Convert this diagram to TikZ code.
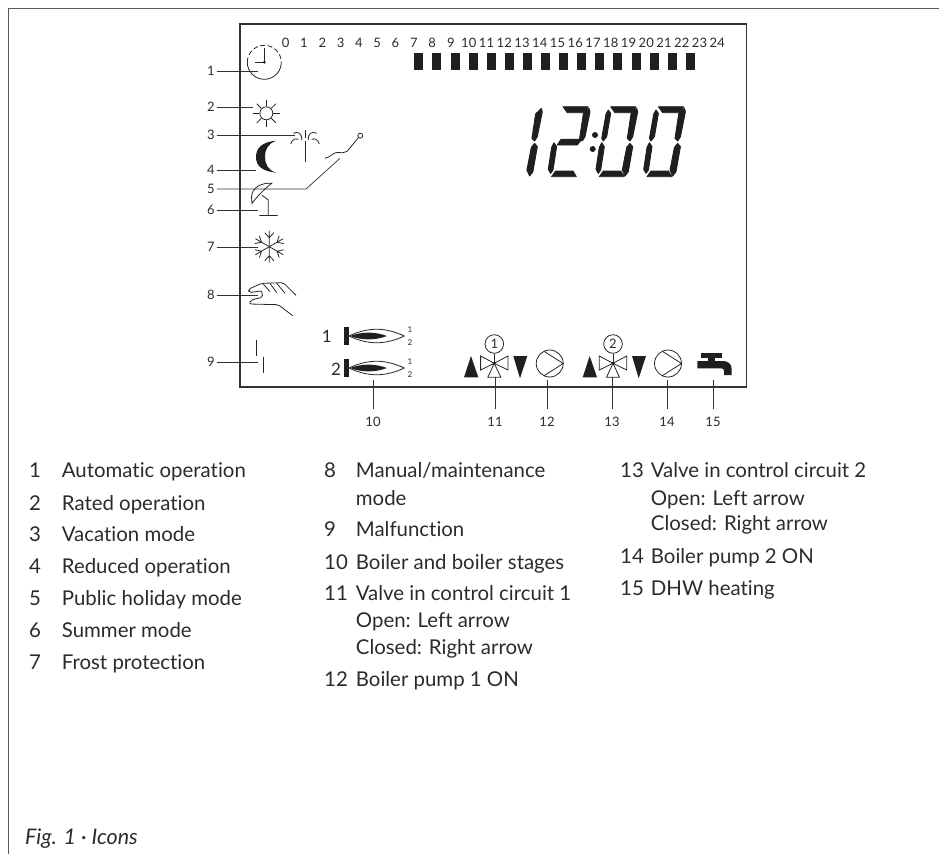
\documentclass[tikz,border=0pt]{standalone}
\usepackage{fontspec}
\usepackage{xcolor}
\setmainfont[Ligatures=NoCommon]{Lato}
\usetikzlibrary{arrows.meta, positioning}

\definecolor{inkgray}{HTML}{2B2B2B}

% Display segments, relative to the upper left of a digit
\newcommand{\segT}{(-0.3,0) -- (25,0) -- (20.7,6) -- (4,6) -- cycle}
\newcommand{\segUR}{(25.7,1.7) -- (26.7,5) -- (21.7,30) -- (19,34.3) -- (16.3,31.7) -- (20,7.3) -- cycle}
\newcommand{\segLR}{(19,36.7) -- (21.7,40) -- (17.3,65) -- (14,69.3) -- (11.3,63.3) -- (15.7,40.7) -- cycle}
\newcommand{\segB}{(-11.7,70) -- (13,70) -- (9.7,64.3) -- (-7.7,64.3) -- cycle}
\newcommand{\segLL}{(-9.3,36) -- (-6.7,40) -- (-10.3,63.3) -- (-12.7,66.7) -- (-15,62.7) -- (-11.7,40.7) -- cycle}
\newcommand{\segUL}{(-2.7,3.3) -- (-0.3,6.7) -- (-4.3,30) -- (-7.7,34.3) -- (-9.3,31.7) -- (-5,7.3) -- cycle}
\newcommand{\segM}{(-6,38.3) -- (14,38.3) -- (18.3,32.7) -- (-2.3,32.7) -- cycle}

\begin{document}
\begin{tikzpicture}[
  x=1pt, y=-1pt,
  every node/.style={text=inkgray},
  frameline/.style={draw=black!65, line width=1pt},
  screenline/.style={draw=black!80, line width=1.4pt},
  leader/.style={draw=black!80, line width=0.7pt},
  icon/.style={draw=black!85, line width=0.8pt},
  solidicon/.style={fill=black!88},
  digitseg/.style={fill=black!88, draw=black!88, line width=0.9pt, line join=round},
  smalllabel/.style={font=\fontsize{13}{13}\selectfont, inner sep=0pt, outer sep=2pt},
  tinylabel/.style={font=\fontsize{8}{8}\selectfont, inner sep=0pt},
  hourlabel/.style={font=\fontsize{13}{13}\selectfont, inner sep=0pt, anchor=center},
  legend/.style={font=\fontsize{20.4}{20.4}\selectfont, inner sep=0pt, anchor=base west},
]
\useasboundingbox (0,0) rectangle (939,854);

% Outer frame
\coordinate (framebl) at (8.5,854);
\coordinate (frametl) at (8.5,8);
\coordinate (frametr) at (939,8);
\draw[frameline] (framebl) -- (frametl) -- (frametr);

% Display
\draw[screenline] (240,24) rectangle (746.5,387);

% Hour scale
\foreach \h in {0,...,8}
  \node[hourlabel] (hour\h) at ({285.7+18.3*\h},43) {\h};
\foreach \h in {9,...,24}
  \node[hourlabel] (hour\h) at ({451+17.75*(\h-9)},43) {\h};
\foreach \b in {0,...,15}
  \fill[solidicon] ({414.3+18.1*\b},53.3) rectangle +(9,16.7);

% Clock digits
\path[digitseg, shift={(515.6,106.7)}] \segUR \segLR;
\path[digitseg, shift={(563.3,106.7)}] \segT \segUR \segM \segLL \segB;
\path[digitseg, shift={(611,106.7)}] \segT \segUR \segLR \segB \segLL \segUL;
\path[digitseg, shift={(658.7,106.7)}] \segT \segUR \segLR \segB \segLL \segUL;
\fill[solidicon] (595,135) circle (3) (592.7,149) circle (3);

% Leaders on the left
\foreach \n/\y/\xe in {1/71/258, 2/107/253, 3/135/295, 4/170/256, 6/210/258, 7/247/258, 8/295/258, 9/362/258} {
  \node[smalllabel] (lab\n) at (211,\y) {\n};
  \coordinate (tip\n) at (\xe,\y);
  \draw[leader] (lab\n) -- (tip\n);
}
\node[smalllabel] (lab5) at (211,189) {5};
\coordinate (bend5) at (306,189);
\coordinate (tip5) at (340,158.3);
\draw[leader] (lab5) -- (bend5) -- (tip5);

% Leaders below
\foreach \n/\x/\ye in {10/373/380, 11/495/377, 12/547/380, 13/612/377, 14/667/380, 15/713/380} {
  \node[smalllabel] (lab\n) at (\x,421.5) {\n};
  \coordinate (tip\n) at (\x,\ye);
  \draw[leader, shorten <=6pt] (lab\n.north) -- (tip\n);
}

% 1 Clock
\draw[icon] (281.3,62.3) arc (0:180:17);
\draw[icon, dash pattern=on 5pt off 2.5pt] (247.3,62.3) arc (180:360:17);
\draw[icon] (264.3,48) -- (264.3,62.3) -- (255,62.3);
\fill[solidicon] (264.3,62.3) circle (1.5);

% 2 Sun
\draw[icon] (266.3,113.3) circle (6.5);
\foreach \a in {0,45,...,315}
  \draw[icon, shift={(266.3,113.3)}] (\a:7) -- (\a:13.5);

% 3 Fountain
\draw[icon] (305,130) -- (305,137.5) (305,141) -- (305,161.7);
\draw[icon] (290.7,144) .. controls (292,139) and (296,138) .. (298.3,139.5);
\draw[icon] (293.3,133.3) .. controls (298,131) and (302,133) .. (301.7,140);
\draw[icon] (319.3,144) .. controls (318,139) and (314,138) .. (311.7,139.5);
\draw[icon] (316.7,133.3) .. controls (312,131) and (308,133) .. (308.3,140);

% 4 Moon
\fill[solidicon] (276,140.7) .. controls (262,142) and (256,148) .. (256,157)
  .. controls (256,166) and (262,171) .. (276,172.7)
  .. controls (268,170) and (265,164) .. (265,157)
  .. controls (265,149) and (268,144) .. cycle;

% 5 Holiday
\draw[icon] (360.3,135.7) circle (2.5);
\draw[icon] (325,158.3) .. controls (331,157) and (333,152.5) .. (337,152.5)
  .. controls (341,152.5) and (344,153.5) .. (347,151.5) -- (358.5,137.5);

% 6 Umbrella
\draw[icon] (271.7,183.3) .. controls (262,182.5) and (252,187) .. (251.5,197) -- (252,203.3)
  .. controls (257,197) and (262,191) .. cycle;
\draw[icon] (261.7,195) -- (268.3,200) -- (268.3,215.5) (259.3,215.5) -- (277.7,215.5);

% 7 Snow
\foreach \a in {30,90,...,330}
  \draw[icon, shift={(269.3,246.7)}, rotate=\a] (0,0) -- (16,0) (9,0) -- (14,4.5) (9,0) -- (14,-4.5);

% 8 Hand
\draw[icon, rounded corners=2pt] (296,295.3) -- (283.3,282.7) -- (261.7,283.3) -- (248.3,289.3)
  -- (249.3,292.7) -- (261.7,290.7) -- (262.7,297.3) -- (250.7,300) -- (249.3,304)
  -- (278.3,304.7) -- (292.7,315.7);
\draw[icon] (263.3,284) -- (270,291.7) (270,283.3) -- (276.7,292.7) (276.7,283.3) -- (285,293.3);

% 9 Malfunction
\draw[icon] (256,340) -- (256,356) (263.7,356.7) -- (263.7,373.3);

% 10 Boiler
\node[smalllabel, font=\fontsize{17}{17}\selectfont] (stage1) at (326.7,336) {1};
\node[smalllabel, font=\fontsize{17}{17}\selectfont] (stage2) at (336,369) {2};
\foreach \fy/\n in {336/1, 368/2} {
  \fill[solidicon] (343.7,\fy-8.7) rectangle (349,\fy+8.7);
  \draw[icon] (349,\fy) .. controls (368,\fy-9) and (385,\fy-9) .. (404.3,\fy)
    .. controls (385,\fy+9) and (368,\fy+9) .. cycle;
  \fill[solidicon] (350,\fy) .. controls (362,\fy-4.5) and (375,\fy-4.5) .. (387,\fy)
    .. controls (375,\fy+4.5) and (362,\fy+4.5) .. cycle;
  \node[tinylabel] (stage\n a) at (410,\fy-6.5) {1};
  \node[tinylabel] (stage\n b) at (410,\fy+6.5) {2};
}

% 11, 13 Valves with arrows
\foreach \vx/\n in {494.3/1, 613/2} {
  \fill[solidicon] (\vx-30.3,377.3) -- (\vx-23.3,356) -- (\vx-16,377.3) -- cycle;
  \fill[solidicon] (\vx+19,356) -- (\vx+33,356) -- (\vx+25.7,378.3) -- cycle;
  \node[draw=black!85, line width=0.8pt, circle, minimum size=18.6pt, inner sep=0pt,
    font=\fontsize{13}{13}\selectfont] (valve\n) at (\vx,344) {\n};
  \coordinate (hub\n) at (\vx,363.3);
  \draw[icon] (valve\n) -- (hub\n);
  \draw[icon] (hub\n) -- (\vx-13.7,356) -- (\vx-13.7,370) -- cycle;
  \draw[icon] (hub\n) -- (\vx+13.7,356) -- (\vx+13.7,370) -- cycle;
  \draw[icon] (hub\n) -- (\vx-6.5,377.3) -- (\vx+6.5,377.3) -- cycle;
  \fill[solidicon] (hub\n) circle (1.5);
}

% 12, 14 Pumps
\foreach \px/\n in {549.7/1, 668/2} {
  \node[draw=black!85, line width=0.8pt, circle, minimum size=27pt, inner sep=0pt, outer sep=0pt] (pump\n) at (\px,363.5) {};
  \draw[icon] (pump\n.115) -- (pump\n.0) -- (pump\n.-115);
}

% 15 Tap
\fill[solidicon] (701,353.3) rectangle (721.7,358.3);
\fill[solidicon] (708,358) rectangle (715,361.5);
\fill[solidicon] (697.3,361) -- (723,361) .. controls (728,361) and (731.7,364) .. (731.7,369)
  -- (731.7,375) -- (724,375) -- (724,371) .. controls (724,369) and (723,368.3) .. (721,368.3)
  -- (697.3,368.3) -- cycle;

% Legend, left column
\foreach \n/\t/\y in {1/Automatic operation/477.7, 2/Rated operation/510, 3/Vacation mode/541.7,
    4/Reduced operation/573.3, 5/Public holiday mode/605.7, 6/Summer mode/637.7, 7/Frost protection/669.3} {
  \node[legend] (itemnum\n) at (29,\y) {\n};
  \node[legend] (item\n) at (61.7,\y) {\t};
}

% Legend, middle column
\node[legend] (itemnum8) at (324,477.7) {8};
\node[legend] (item8) at (355.7,477.7) {Manual/maintenance};
\node[legend] (item8b) at (355.7,505) {mode};
\foreach \n/\t/\y in {9/Malfunction/536.7, 10/Boiler and boiler stages/569, 11/Valve in control circuit 1/600.7, 12/Boiler pump 1 ON/686} {
  \node[legend] (itemnum\n) at (324,\y) {\n};
  \node[legend] (item\n) at (355.7,\y) {\t};
}
\node[legend] (item11b) at (355.7,627.3) {Open: Left arrow};
\node[legend] (item11c) at (355.7,654) {Closed: Right arrow};

% Legend, right column
\foreach \n/\t/\y in {13/Valve in control circuit 2/477.7, 14/Boiler pump 2 ON/563.3, 15/DHW heating/595} {
  \node[legend] (itemnum\n) at (620,\y) {\n};
  \node[legend] (item\n) at (650.7,\y) {\t};
}
\node[legend] (item13b) at (650.7,505) {Open: Left arrow};
\node[legend] (item13c) at (650.7,530.7) {Closed: Right arrow};

% Caption
\node[legend, font=\fontsize{21.5}{21.5}\selectfont\itshape] (caption) at (25,844) {Fig. 1 · Icons};

\end{tikzpicture}
\end{document}
